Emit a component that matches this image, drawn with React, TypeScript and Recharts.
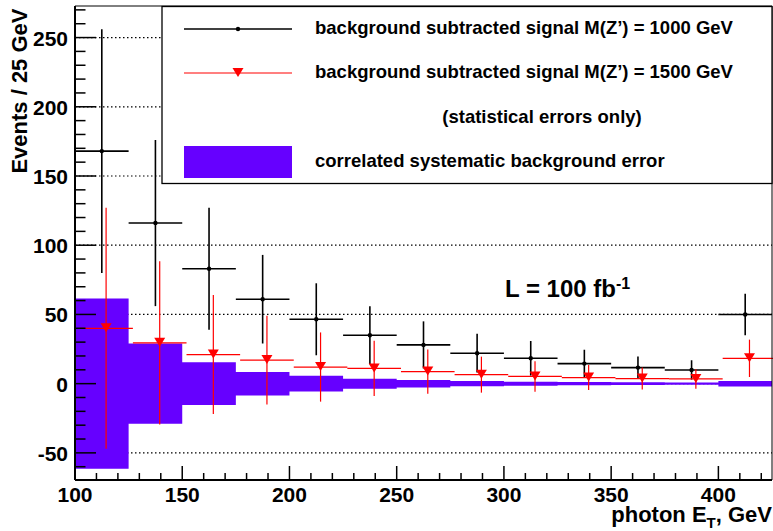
import React from "react";
import {
  Area,
  CartesianGrid,
  ComposedChart,
  ErrorBar,
  Label,
  ReferenceLine,
  Scatter,
  XAxis,
  YAxis,
} from "recharts";

// photon E_T bins, 25 GeV wide
const binEdges = [100, 125, 150, 175, 200, 225, 250, 275, 300, 325, 350, 375, 400, 425];
const binCenters = [112.5, 137.5, 162.5, 187.5, 212.5, 237.5, 262.5, 287.5, 312.5, 337.5, 362.5, 387.5, 412.5];

// background subtracted signal, M(Z') = 1000 GeV
const sig1000 = [168, 116, 83, 61, 46.5, 35, 28, 22, 18.3, 14.5, 11.6, 9.9, 50];
const sig1000Err = [88, 60, 44, 32, 26, 21, 17, 14, 12.5, 10, 8, 7, 15];

// background subtracted signal, M(Z') = 1500 GeV
const sig1500 = [40, 29.5, 21, 17, 12, 11, 8.7, 6.5, 5.2, 4.4, 3.7, 3.4, 18.3];
const sig1500Err = [87, 59, 43, 32, 25, 20, 16, 13, 11, 9, 8, 7, 13.5];

// correlated systematic background error (symmetric around 0)
const bkgSystErr = [61.5, 29, 15.5, 8.5, 5.7, 3.6, 2.7, 1.9, 1.45, 1.2, 1, 0.75, 2];

const xTicks = [
  100, 110, 120, 130, 140, 150, 160, 170, 180, 190, 200, 210, 220, 230, 240, 250, 260,
  270, 280, 290, 300, 310, 320, 330, 340, 350, 360, 370, 380, 390, 400, 410, 420,
];
const yTicks = [
  -60, -50, -40, -30, -20, -10, 0, 10, 20, 30, 40, 50, 60, 70, 80, 90, 100, 110, 120, 130,
  140, 150, 160, 170, 180, 190, 200, 210, 220, 230, 240, 250, 260, 270,
];
const gridValues = [-50, 0, 50, 100, 150, 200, 250];

const X_MIN = 100;
const X_MAX = 425;
const Y_MIN = -69.6;
const Y_MAX = 272.8;
const HALF_BIN = 12.5;
const SHIFT_1500 = 2; // second histogram drawn slightly offset

const FONT = '"Liberation Sans", Arial, Helvetica, sans-serif';
const PURPLE = "#6600ff";
const RED = "#ff0000";

const bandData = binEdges.map((x, i) => {
  const e = bkgSystErr[Math.min(i, bkgSystErr.length - 1)];
  return { x, band: [-e, e] };
});

const data1000 = binCenters.map((x, i) => ({
  x,
  y: sig1000[i],
  ey: sig1000Err[i],
  ex: HALF_BIN,
}));

const data1500 = binCenters.map((x, i) => ({
  x: x + SHIFT_1500,
  y: sig1500[i],
  ey: sig1500Err[i],
  ex: HALF_BIN,
}));

function renderXTick(props: any) {
  const { x, y, payload } = props;
  const major = payload.value % 50 === 0;
  return (
    <g>
      <line x1={x} x2={x} y1={y} y2={y - (major ? 14 : 7)} stroke="#000" strokeWidth={1.5} />
      {major && (
        <text x={x} y={y + 22} textAnchor="middle" fontFamily={FONT} fontWeight="bold" fontSize={21} fill="#000">
          {payload.value}
        </text>
      )}
    </g>
  );
}

function renderYTick(props: any) {
  const { x, y, payload } = props;
  const major = payload.value % 50 === 0;
  return (
    <g>
      <line x1={x} x2={x + (major ? 21 : 10.5)} y1={y} y2={y} stroke="#000" strokeWidth={1.5} />
      {major && (
        <text x={x - 7} y={y + 8} textAnchor="end" fontFamily={FONT} fontWeight="bold" fontSize={21} fill="#000">
          {payload.value}
        </text>
      )}
    </g>
  );
}

function renderXTitle(props: any) {
  const vb = props.viewBox;
  return (
    <text
      x={vb.x + vb.width}
      y={vb.y + 41.7}
      textAnchor="end"
      fontFamily={FONT}
      fontWeight="bold"
      fontSize={22}
      fill="#000"
    >
      photon E
      <tspan fontSize={15} dy={6}>T</tspan>
      <tspan dy={-6}>, GeV</tspan>
    </text>
  );
}

function renderYTitle(props: any) {
  const vb = props.viewBox;
  const x = vb.x + 27;
  const y = vb.y + 2.5;
  return (
    <text
      x={x}
      y={y}
      transform={`rotate(-90 ${x} ${y})`}
      textAnchor="end"
      fontFamily={FONT}
      fontWeight="bold"
      fontSize={22}
      fill="#000"
    >
      Events / 25 GeV
    </text>
  );
}

const dotShape = (p: any) => <circle cx={p.cx} cy={p.cy} r={2.2} fill="#000" />;

const triangleShape = (p: any) => (
  <path d={`M${p.cx - 5.5},${p.cy - 5}L${p.cx + 5.5},${p.cy - 5}L${p.cx},${p.cy + 4}Z`} fill={RED} />
);

function LegendBox() {
  const textProps = { fontFamily: FONT, fontWeight: "bold" as const, fontSize: 18.5, fill: "#000" };
  return (
    <svg
      width={773}
      height={531}
      style={{ position: "absolute", left: 0, top: 0, pointerEvents: "none" }}
    >
      <rect x={162} y={6.5} width={610} height={177} fill="#fff" stroke="#000" strokeWidth={1.3} />
      <line x1={184} x2={292} y1={29} y2={29} stroke="#000" strokeWidth={1.5} />
      <circle cx={238} cy={29} r={2.2} fill="#000" />
      <text x={315} y={33.5} {...textProps}>
        background subtracted signal M(Z’) = 1000 GeV
      </text>
      <line x1={184} x2={292} y1={73} y2={73} stroke={RED} strokeWidth={1.2} />
      <path d="M232.5,68L243.5,68L238,77Z" fill={RED} />
      <text x={315} y={78} {...textProps}>
        background subtracted signal M(Z’) = 1500 GeV
      </text>
      <text x={542} y={122.5} textAnchor="middle" {...textProps}>
        (statistical errors only)
      </text>
      <rect x={184} y={146} width={108} height={32} fill={PURPLE} />
      <text x={315} y={166.5} {...textProps}>
        correlated systematic background error
      </text>
      <text x={505} y={297.3} fontFamily={FONT} fontWeight="bold" fontSize={24} fill="#000">
        L = 100 fb
        <tspan fontSize={16} dy={-8}>-1</tspan>
      </text>
    </svg>
  );
}

export default function App() {
  return (
    <div style={{ position: "relative", width: 773, height: 531, background: "#fff" }}>
      <style>{"body{margin:0}"}</style>
      <ComposedChart width={773} height={531} margin={{ top: 6, right: 1, bottom: 0, left: 0 }}>
        <CartesianGrid
          vertical={false}
          horizontalValues={gridValues}
          stroke="#000"
          strokeWidth={1.2}
          strokeDasharray="1.5 2.5"
        />
        <XAxis
          type="number"
          dataKey="x"
          domain={[X_MIN, X_MAX]}
          allowDataOverflow
          ticks={xTicks}
          interval={0}
          tickSize={0}
          tickMargin={0}
          tickLine={false}
          tick={renderXTick}
          axisLine={{ stroke: "#000", strokeWidth: 2 }}
          height={51}
        >
          <Label content={renderXTitle} />
        </XAxis>
        <YAxis
          type="number"
          domain={[Y_MIN, Y_MAX]}
          allowDataOverflow
          ticks={yTicks}
          interval={0}
          tickSize={0}
          tickMargin={0}
          tickLine={false}
          tick={renderYTick}
          axisLine={{ stroke: "#000", strokeWidth: 2 }}
          width={75}
        >
          <Label content={renderYTitle} />
        </YAxis>
        <Area
          data={bandData}
          dataKey="band"
          type="stepAfter"
          fill={PURPLE}
          fillOpacity={1}
          stroke="none"
          isAnimationActive={false}
        />
        <Scatter data={data1000} dataKey="y" shape={dotShape} isAnimationActive={false}>
          <ErrorBar dataKey="ey" direction="y" width={0} stroke="#000" strokeWidth={1.6} isAnimationActive={false} />
          <ErrorBar dataKey="ex" direction="x" width={0} stroke="#000" strokeWidth={1.6} isAnimationActive={false} />
        </Scatter>
        <Scatter data={data1500} dataKey="y" shape={triangleShape} isAnimationActive={false}>
          <ErrorBar dataKey="ey" direction="y" width={0} stroke={RED} strokeWidth={1.2} isAnimationActive={false} />
          <ErrorBar dataKey="ex" direction="x" width={0} stroke={RED} strokeWidth={1.2} isAnimationActive={false} />
        </Scatter>
        <ReferenceLine y={Y_MAX} stroke="#000" strokeWidth={1} />
        <ReferenceLine x={X_MAX} stroke="#000" strokeWidth={1} />
      </ComposedChart>
      <LegendBox />
    </div>
  );
}
